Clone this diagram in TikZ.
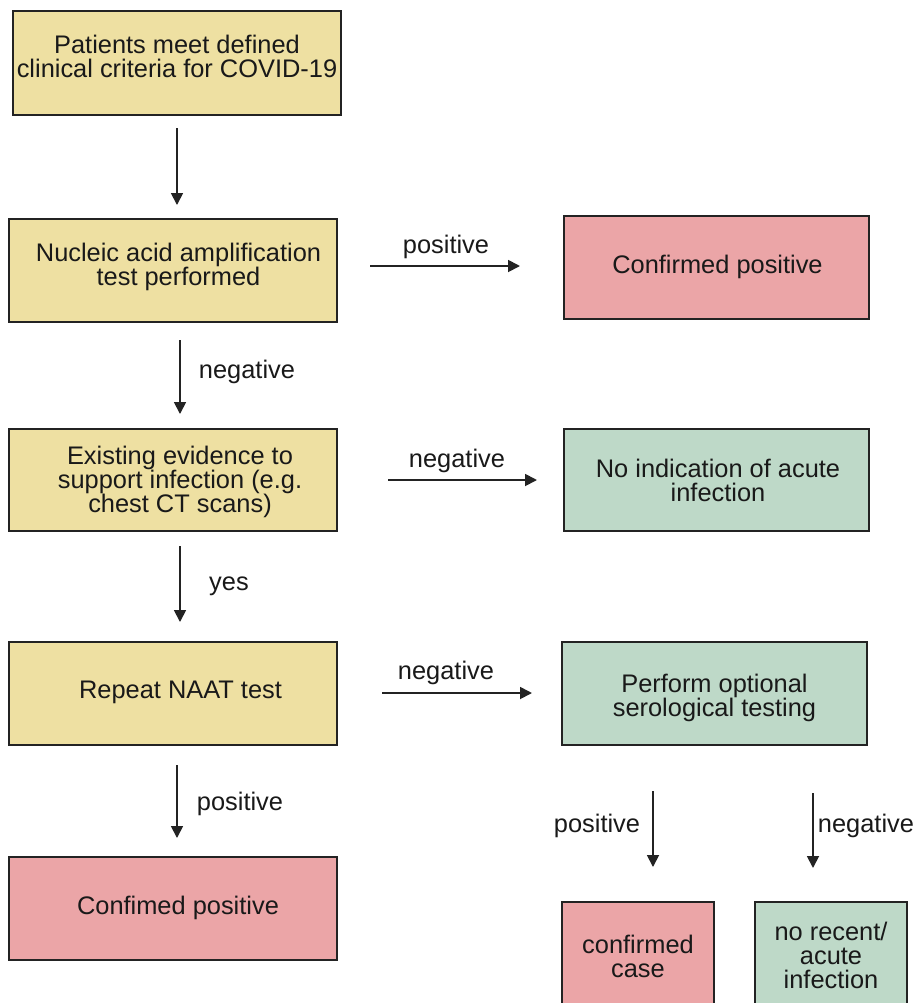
\documentclass[tikz,border=0pt]{standalone}
\usepackage{fontspec}
\setmainfont{Liberation Sans}
\usetikzlibrary{arrows.meta}
\definecolor{cy}{RGB}{238,224,162}
\definecolor{cp}{RGB}{235,165,167}
\definecolor{cg}{RGB}{190,217,200}
\definecolor{ln}{RGB}{35,35,35}
\begin{document}
\begin{tikzpicture}[x=0.5pt,y=-0.5pt,
  lbl/.style={font=\fontsize{12.7pt}{12pt}\selectfont, text=black!90, align=center, inner sep=0pt},
  box/.style={draw=ln, line width=0.9pt, inner sep=0pt},
  wide/.style={box, minimum width=164pt},
  rbox/.style={box, minimum width=152.5pt},
  sbox/.style={box, minimum width=76pt, minimum height=54pt},
  arr/.style={draw=ln, line width=0.9pt, -{Triangle[length=6pt,width=6pt]}},
  txt/.style={lbl}]
\useasboundingbox (0,0) rectangle (917,1003);
\clip (0,0) rectangle (917,1003);
\fill[white] (0,0) rectangle (917,1003);

% left column
\node[wide, fill=cy, minimum height=52pt] (b1) at (177,63) {};
\node[txt] (t1) at (177,56) {Patients meet defined\\clinical criteria for COVID-19};
\node[wide, fill=cy, minimum height=51.5pt] (b2) at (173,270.5) {};
\node[txt] (t2) at (178.5,267) {Nucleic acid amplification\\test performed};
\node[wide, fill=cy, minimum height=51pt] (b4) at (173,480) {};
\node[txt] (t4) at (180,482) {Existing evidence to\\support infection (e.g.\\chest CT scans)};
\node[wide, fill=cy, minimum height=51.5pt] (b6) at (173,693.5) {};
\node[txt] (t6) at (180.5,692) {Repeat NAAT test};
\node[wide, fill=cp, minimum height=51.5pt] (b8) at (173,908.5) {};
\node[txt] (t8) at (178,908) {Confimed positive};

% right column
\node[rbox, fill=cp, minimum height=51.5pt] (b3) at (716.5,267.5) {};
\node[txt] (t3) at (717.5,267) {Confirmed positive};
\node[rbox, fill=cg, minimum height=51pt] (b5) at (716.5,480) {};
\node[txt] (t5) at (718,480) {No indication of acute\\infection};
\node[rbox, fill=cg, minimum height=51.5pt] (b7) at (714.5,693.5) {};
\node[txt] (t7) at (714.5,698) {Perform optional\\serological testing};
\node[sbox, fill=cp] (b9) at (638,956) {};
\node[txt] (t9) at (638,956) {confirmed\\case};
\node[sbox, fill=cg] (b10) at (831,956) {};
\node[txt] (t10) at (831,955) {no recent/\\acute\\infection};

% arrow end points
\coordinate (a1s) at (177,128); \coordinate (a1e) at (177,205);
\coordinate (a2s) at (370,266); \coordinate (a2e) at (520,266);
\coordinate (a3s) at (180,340); \coordinate (a3e) at (180,414);
\coordinate (a4s) at (388,480); \coordinate (a4e) at (537,480);
\coordinate (a5s) at (180,546); \coordinate (a5e) at (180,622);
\coordinate (a6s) at (382,693); \coordinate (a6e) at (532,693);
\coordinate (a7s) at (177,765); \coordinate (a7e) at (177,838);
\coordinate (a8s) at (653,791); \coordinate (a8e) at (653,867);
\coordinate (a9s) at (813,793); \coordinate (a9e) at (813,868);

\draw[arr] (a1s) -- (a1e);
\draw[arr] (a2s) -- (a2e);
\draw[arr] (a3s) -- (a3e);
\draw[arr] (a4s) -- (a4e);
\draw[arr] (a5s) -- (a5e);
\draw[arr] (a6s) -- (a6e);
\draw[arr] (a7s) -- (a7e);
\draw[arr] (a8s) -- (a8e);
\draw[arr] (a9s) -- (a9e);

% labels
\node[lbl] (l2) at (446,247) {positive};
\node[lbl] (l3) at (247,372) {negative};
\node[lbl] (l4) at (457,461) {negative};
\node[lbl] (l5) at (229,586) {yes};
\node[lbl] (l6) at (446,673) {negative};
\node[lbl] (l7) at (240,804) {positive};
\node[lbl] (l8) at (597,826) {positive};
\node[lbl] (l9) at (866,826) {negative};
\end{tikzpicture}
\end{document}
